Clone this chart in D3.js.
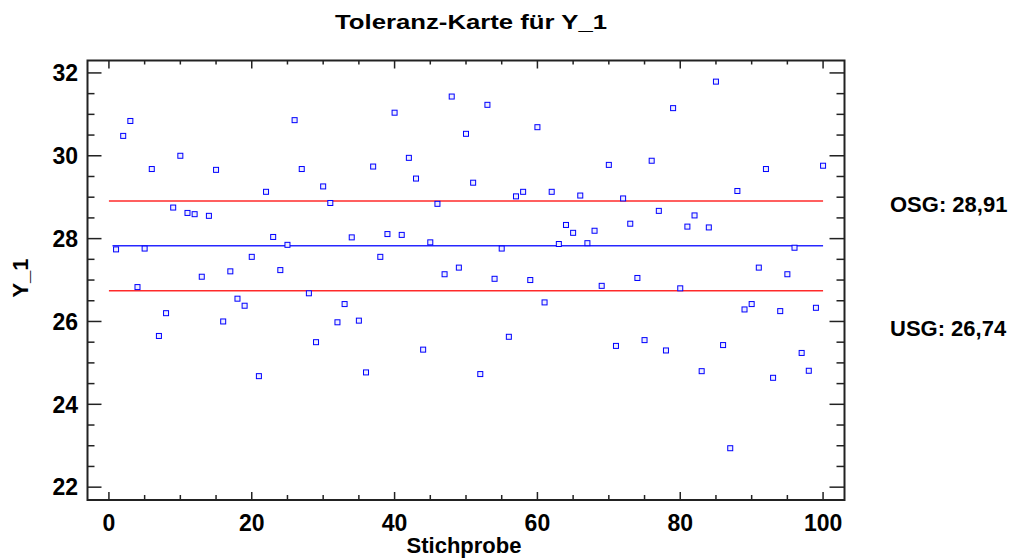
<!DOCTYPE html>
<html>
<head>
<meta charset="utf-8">
<script src="https://cdn.jsdelivr.net/npm/d3@7"></script>
<style>
  body { margin: 0; background: #fff; }
  text { font-family: "Liberation Sans", Arial, sans-serif; font-weight: bold; fill: #000; }
</style>
</head>
<body>
<div class="graph"></div>
<script>
// Stichprobe 1..100
var samples = [
  27.74, 30.48, 30.84, 26.83, 27.76, 29.68, 25.65, 26.20, 28.75, 30.00,
  28.62, 28.59, 27.08, 28.55, 29.66, 26.00, 27.21, 26.55, 26.38, 27.56,
  24.68, 29.13, 28.04, 27.24, 27.85, 30.86, 29.68, 26.68, 25.50, 29.26,
  28.86, 25.98, 26.42, 28.03, 26.02, 24.77, 29.74, 27.56, 28.11, 31.04,
  28.09, 29.95, 29.45, 25.32, 27.91, 28.84, 27.14, 31.43, 27.30, 30.53,
  29.35, 24.73, 31.23, 27.03, 27.76, 25.63, 29.02, 29.13, 27.00, 30.69,
  26.46, 29.13, 27.87, 28.33, 28.14, 29.04, 27.89, 28.19, 26.86, 29.78,
  25.41, 28.97, 28.36, 27.05, 25.55, 29.88, 28.67, 25.30, 31.15, 26.80,
  28.29, 28.56, 24.80, 28.27, 31.79, 25.43, 22.94, 29.15, 26.29, 26.42,
  27.30, 29.68, 24.64, 26.25, 27.14, 27.78, 25.24, 24.81, 26.33, 29.76
]
var osg = 28.91
var usg = 26.74
var center = 27.825
var xTicks = [0, 20, 40, 60, 80, 100]
var yTicks = [22, 24, 26, 28, 30, 32]

var w = 1023
var h = 558
var plotL = 87.5, plotR = 844.5, plotT = 60.5, plotB = 500

var x = d3.scaleLinear().domain([-3, 103]).range([plotL, plotR])
var y = d3.scaleLinear().domain([21.69, 32.3]).range([plotB, plotT])

var svg = d3.select('.graph')
              .append("svg")
              .attr("width", w)
              .attr("height", h)

// title
svg.append("text")
  .attr("x", 335)
  .attr("y", 29)
  .attr("textLength", 272)
  .attr("lengthAdjust", "spacingAndGlyphs")
  .style("font-size", "21px")
  .text("Toleranz-Karte für Y_1")

// minor / major ticks
var xMinor = d3.range(0, 101, 5)
var yMinor = d3.range(22, 32.01, 0.5)

var axisG = svg.append("g").attr("stroke", "#222").attr("stroke-width", 1.5)

axisG.selectAll(".xb")
  .data(xMinor)
  .enter()
  .append("line")
  .attr("x1", function(d){ return x(d) })
  .attr("x2", function(d){ return x(d) })
  .attr("y1", plotB)
  .attr("y2", function(d){ return d % 20 == 0 ? plotB - 8 : plotB - 5 })

axisG.selectAll(".xt")
  .data(xMinor)
  .enter()
  .append("line")
  .attr("x1", function(d){ return x(d) })
  .attr("x2", function(d){ return x(d) })
  .attr("y1", plotT)
  .attr("y2", function(d){ return d % 20 == 0 ? plotT + 8 : plotT + 4 })

axisG.selectAll(".yl")
  .data(yMinor)
  .enter()
  .append("line")
  .attr("y1", function(d){ return y(d) })
  .attr("y2", function(d){ return y(d) })
  .attr("x1", plotL)
  .attr("x2", function(d){ return d % 2 == 0 ? plotL + 14 : plotL + 7 })

axisG.selectAll(".yr")
  .data(yMinor)
  .enter()
  .append("line")
  .attr("y1", function(d){ return y(d) })
  .attr("y2", function(d){ return y(d) })
  .attr("x1", plotR)
  .attr("x2", function(d){ return d % 2 == 0 ? plotR - 15 : plotR - 8 })

// frame
svg.append("rect")
  .attr("x", plotL)
  .attr("y", plotT)
  .attr("width", plotR - plotL)
  .attr("height", plotB - plotT)
  .attr("fill", "none")
  .attr("stroke", "#222")
  .attr("stroke-width", 2)

// tick labels
svg.selectAll(".xlab")
  .data(xTicks)
  .enter()
  .append("text")
  .attr("x", function(d){ return x(d) })
  .attr("y", 531)
  .attr("text-anchor", "middle")
  .style("font-size", "23px")
  .text(function(d){ return d })

svg.selectAll(".ylab")
  .data(yTicks)
  .enter()
  .append("text")
  .attr("x", 78)
  .attr("y", function(d){ return y(d) + 8.3 })
  .attr("text-anchor", "end")
  .style("font-size", "23px")
  .text(function(d){ return d })

// axis titles
svg.append("text")
  .attr("x", 464)
  .attr("y", 553)
  .attr("text-anchor", "middle")
  .style("font-size", "22px")
  .text("Stichprobe")

svg.append("text")
  .attr("transform", "translate(28,278) rotate(-90)")
  .attr("text-anchor", "middle")
  .style("font-size", "22px")
  .text("Y_1")

// limit lines
svg.append("line")
  .attr("x1", x(0)).attr("x2", x(100))
  .attr("y1", y(osg)).attr("y2", y(osg))
  .attr("stroke", "#ff2a2a").attr("stroke-width", 1.5)

svg.append("line")
  .attr("x1", x(0)).attr("x2", x(100))
  .attr("y1", y(usg)).attr("y2", y(usg))
  .attr("stroke", "#ff2a2a").attr("stroke-width", 1.5)

svg.append("line")
  .attr("x1", x(0.5)).attr("x2", x(100))
  .attr("y1", y(center)).attr("y2", y(center))
  .attr("stroke", "#2828ff").attr("stroke-width", 1.5)

// points
svg.selectAll(".pt")
  .data(samples)
  .enter()
  .append("rect")
  .attr("x", function(d, i){ return x(i + 1) - 2.5 })
  .attr("y", function(d){ return y(d) - 2.5 })
  .attr("width", 5)
  .attr("height", 5)
  .attr("fill", "#eef")
  .attr("stroke", "#0000ff")
  .attr("stroke-width", 1)

// limit labels
svg.append("text")
  .attr("x", 890)
  .attr("y", 212)
  .style("font-size", "22px")
  .text("OSG: " + String(osg).replace(".", ","))

svg.append("text")
  .attr("x", 890)
  .attr("y", 336)
  .style("font-size", "22px")
  .text("USG: " + String(usg).replace(".", ","))
</script>
</body>
</html>
